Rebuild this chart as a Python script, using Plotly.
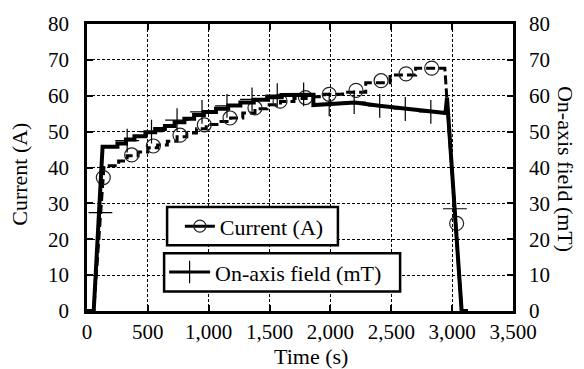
import plotly.graph_objects as go

# ---- data ----
# Current (A) trace vertices: time (s), value
cur_t = [0, 55, 140, 260, 260, 330, 330, 420, 420, 500, 500, 580, 580, 660, 660, 740, 740,
         820, 820, 900, 900, 980, 980, 1080, 1080, 1180, 1180, 1280, 1280, 1380, 1380,
         1480, 1480, 1590, 1590, 1700, 1700, 1800, 1800, 1950, 1950, 2100, 2100, 2290,
         2290, 2490, 2490, 2700, 2700, 2940, 2955, 3078, 3130]
cur_v = [0, 0, 40.5, 40.5, 41.8, 41.8, 43.3, 43.3, 44.3, 44.3, 45.5, 45.5, 46.3, 46.3, 47.3, 47.3, 48.6,
         48.6, 49.6, 49.6, 50.8, 50.8, 52.0, 52.0, 52.8, 52.8, 53.8, 53.8, 55.2, 55.2, 56.4,
         56.4, 57.5, 57.5, 58.4, 58.4, 59.2, 59.2, 59.7, 59.7, 60.4, 60.4, 61.0, 61.0,
         63.6, 63.6, 65.8, 65.8, 67.7, 67.7, 60.0, 0, 0]
# Current marker samples
cur_mt = [134, 367, 545, 764, 964, 1175, 1380, 1586, 1795, 1990, 2210, 2416, 2621, 2832, 3037]
cur_mv = [37.2, 43.5, 46.0, 49.0, 51.9, 53.8, 56.6, 58.5, 59.5, 60.4, 61.5, 64.2, 66.1, 67.7, 24.4]

# On-axis field (mT) trace vertices
fld_t = [0, 55, 128, 250, 250, 320, 320, 390, 390, 480, 480, 560, 560, 640, 640, 720, 720,
         800, 800, 880, 880, 960, 960, 1060, 1060, 1160, 1160, 1260, 1260, 1370, 1370,
         1480, 1480, 1600, 1600, 1860, 1860, 2000, 2200, 2400, 2620, 2830, 2945, 2958, 3078, 3130]
fld_v = [0, 0, 45.8, 45.8, 46.7, 46.7, 47.8, 47.8, 48.7, 48.7, 49.8, 49.8, 50.7, 50.7, 51.6, 51.6, 52.6,
         52.6, 53.6, 53.6, 54.6, 54.6, 55.5, 55.5, 56.4, 56.4, 57.3, 57.3, 58.1, 58.1, 58.9,
         58.9, 59.6, 59.6, 60.2, 60.3, 57.4, 57.6, 58.1, 57.2, 56.4, 55.6, 55.2, 59.5, 0, 0]
fld_mt = [110, 330, 530, 740, 945, 1150, 1356, 1563, 1780, 1990, 2195, 2405, 2615, 2825, 3023]
fld_mv = [27.4, 47.5, 50.0, 53.2, 55.5, 57.2, 59.0, 60.2, 60.4, 57.6, 58.2, 57.2, 56.3, 55.5, 28.5]

x_ticks = [0, 500, 1000, 1500, 2000, 2500, 3000, 3500]
x_labels = ["0", "500", "1,000", "1,500", "2,000", "2,500", "3,000", "3,500"]
y_ticks = [0, 10, 20, 30, 40, 50, 60, 70, 80]

FONT = "Liberation Serif, Times New Roman, serif"
FS_TICK = 21
FS_TEXT = 22

fig = go.Figure()

# lines
fig.add_trace(go.Scatter(x=cur_t, y=cur_v, mode="lines", showlegend=False,
                         line=dict(color="black", width=3, dash="9px,4px")))
fig.add_trace(go.Scatter(x=fld_t, y=fld_v, mode="lines", showlegend=False, yaxis="y2",
                         line=dict(color="black", width=4)))
# markers
fig.add_trace(go.Scatter(x=cur_mt, y=cur_mv, mode="markers", showlegend=False,
                         marker=dict(symbol="circle-open", size=14, color="#222",
                                     line=dict(width=1.2, color="#222"))))
fig.add_trace(go.Scatter(x=fld_mt, y=fld_mv, mode="markers", showlegend=False, yaxis="y2",
                         marker=dict(symbol="cross-thin", size=17, color="black",
                                     line=dict(width=1.2, color="black"))))
# legend entries
fig.add_trace(go.Scatter(x=[None], y=[None], mode="lines+markers", name="Current (A)",
                         legend="legend",
                         line=dict(color="black", width=3),
                         marker=dict(symbol="circle-open", size=12, color="#222",
                                     line=dict(width=1.2, color="#222"))))
fig.add_trace(go.Scatter(x=[None], y=[None], mode="lines+markers", name="On-axis field (mT)",
                         legend="legend2",
                         line=dict(color="black", width=3),
                         marker=dict(symbol="cross-thin", size=16, color="black",
                                     line=dict(width=1.2, color="black"))))

grid = dict(showgrid=True, gridcolor="black", gridwidth=1, griddash="3px,2px")

# legend frames (paper coordinates)
box = dict(type="rect", xref="paper", yref="paper", layer="above",
           line=dict(color="black", width=2.5), fillcolor="white")
shapes = [
    dict(box, x0=0.188, x1=0.589, y0=0.229, y1=0.362),
    dict(box, x0=0.181, x1=0.735, y0=0.068, y1=0.201),
]

fig.update_layout(
    width=584, height=369,
    margin=dict(l=87, r=71, t=18, b=58),
    paper_bgcolor="white", plot_bgcolor="white",
    font=dict(family=FONT, size=FS_TICK, color="black"),
    xaxis=dict(range=[0, 3500], tickvals=x_ticks, ticktext=x_labels,
               ticks="inside", ticklen=6, tickwidth=2, tickcolor="black",
               showline=True, linecolor="black", linewidth=2.5, mirror="ticks",
               zeroline=False, **grid),
    yaxis=dict(range=[0, 80], tickvals=y_ticks,
               ticks="inside", ticklen=6, tickwidth=2, tickcolor="black",
               showline=True, linecolor="black", linewidth=2.5, mirror=True,
               zeroline=False, ticklabelstandoff=11, **grid),
    yaxis2=dict(range=[0, 80], tickvals=y_ticks, overlaying="y", side="right",
                ticks="inside", ticklen=6, tickwidth=2, tickcolor="black",
                showline=True, linecolor="black", linewidth=2.5,
                showgrid=False, zeroline=False, ticklabelstandoff=9),
    legend=dict(x=0.218, y=0.295, xanchor="left", yanchor="middle",
                borderwidth=0, bgcolor="rgba(0,0,0,0)", itemwidth=30,
                font=dict(family=FONT, size=FS_TEXT), tracegroupgap=0),
    legend2=dict(x=0.181, y=0.135, xanchor="left", yanchor="middle",
                 borderwidth=0, bgcolor="rgba(0,0,0,0)", itemwidth=41,
                 font=dict(family=FONT, size=FS_TEXT), tracegroupgap=0),
    shapes=shapes,
    annotations=[
        dict(text="Time (s)", x=0.526, y=-0.157, xref="paper", yref="paper",
             xanchor="center", yanchor="middle", showarrow=False,
             font=dict(family=FONT, size=FS_TEXT)),
        dict(text="Current (A)", x=-0.157, y=0.475, xref="paper", yref="paper",
             xanchor="center", yanchor="middle", textangle=-90, showarrow=False,
             font=dict(family=FONT, size=FS_TEXT)),
        dict(text="On-axis field (mT)", x=1.122, y=0.495, xref="paper", yref="paper",
             xanchor="center", yanchor="middle", textangle=90, showarrow=False,
             font=dict(family=FONT, size=FS_TEXT)),
    ],
)

fig.write_html("out.html")
